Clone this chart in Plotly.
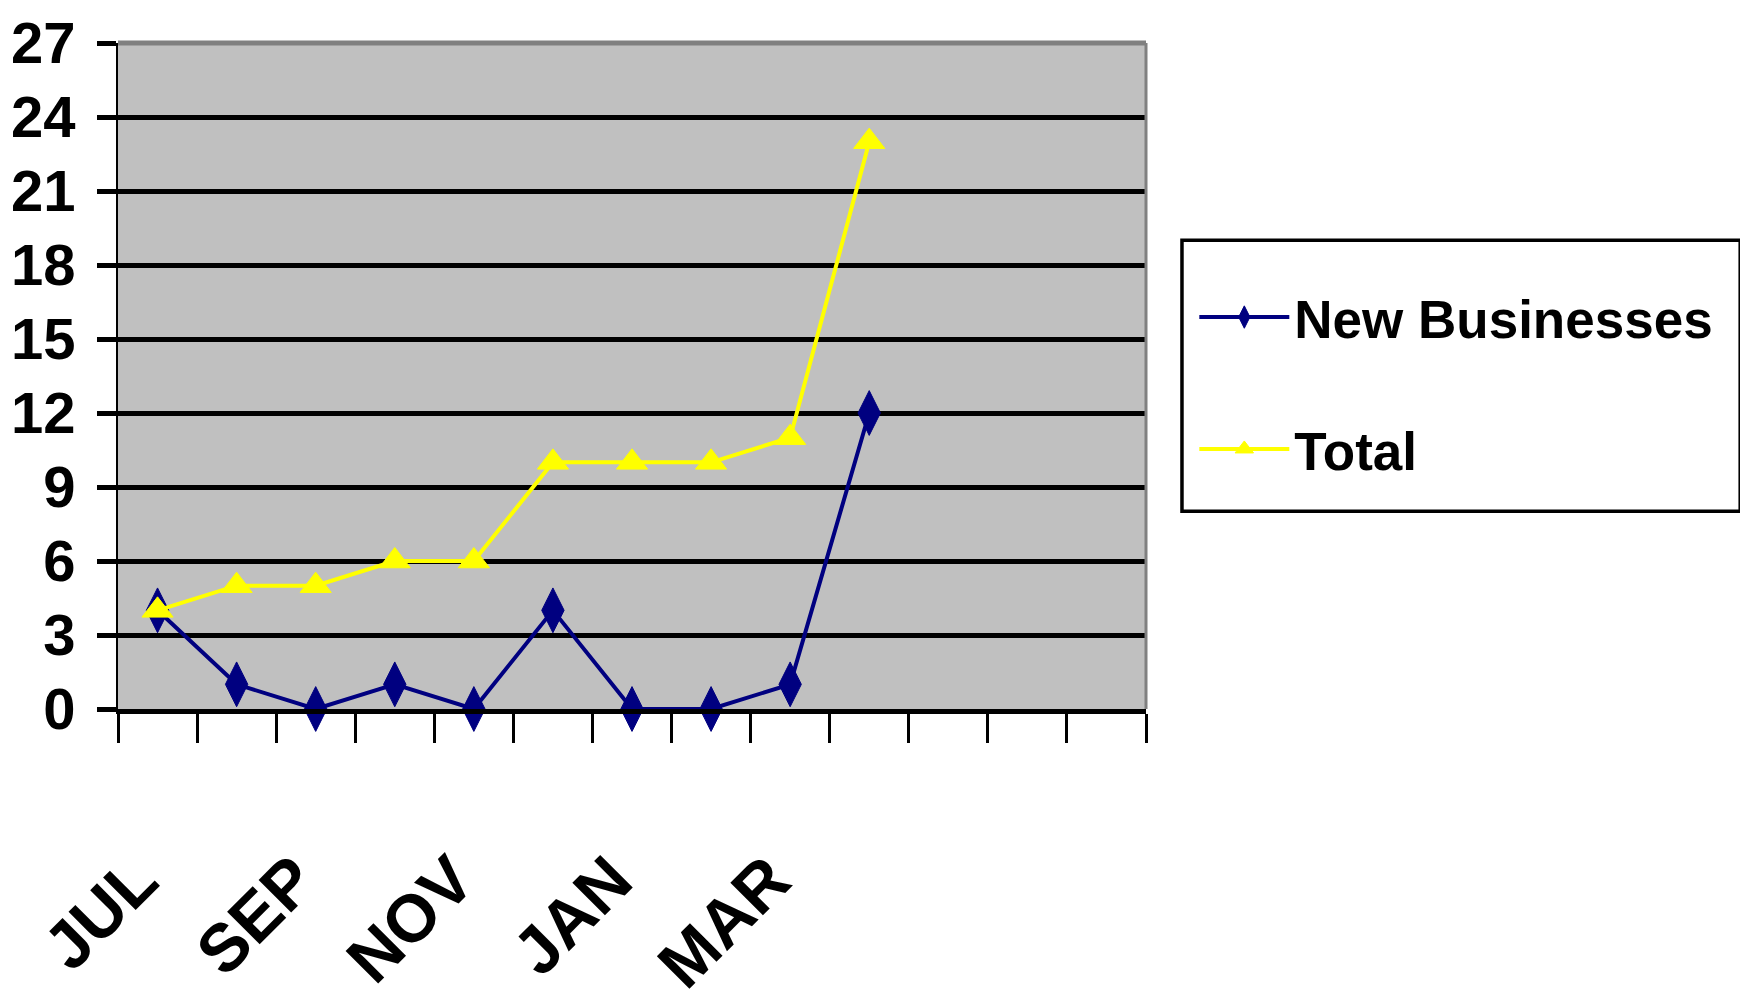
import plotly.graph_objects as go

months = ["JUL", "AUG", "SEP", "OCT", "NOV", "DEC", "JAN", "FEB", "MAR", "APR",
          "MAY", "JUN", "JUL"]
label_idx = [0, 2, 4, 6, 8]
new_businesses = [4, 1, 0, 1, 0, 4, 0, 0, 1, 12]
total = [4, 5, 5, 6, 6, 10, 10, 10, 11, 23]
y_ticks = [0, 3, 6, 9, 12, 15, 18, 21, 24, 27]

NAVY = "#000080"
YELLOW = "#FFFF00"
FONT = "Liberation Sans, Arial, sans-serif"

xs = list(range(len(new_businesses)))
n_cat = len(months)

fig = go.Figure()
fig.add_trace(go.Scatter(
    x=xs, y=new_businesses, name="New Businesses", mode="lines+markers",
    line=dict(color=NAVY, width=4),
    marker=dict(symbol="diamond-tall", size=32, color=NAVY, line=dict(color=NAVY, width=1)),
    legendgroup="a", cliponaxis=False,
))
fig.add_trace(go.Scatter(
    x=xs, y=total, name="Total", mode="lines+markers",
    line=dict(color=YELLOW, width=4),
    marker=dict(symbol="triangle-up", size=27, color=YELLOW, line=dict(color=YELLOW, width=1)),
    legendgroup="b", cliponaxis=False,
))
# invisible trace to carry the label axis
fig.add_trace(go.Scatter(x=[0], y=[0], xaxis="x2", mode="markers",
                         marker=dict(opacity=0), showlegend=False, hoverinfo="skip"))

boundaries = [i - 0.5 for i in range(n_cat + 1)]
label_shift = 0.25

fig.update_layout(
    width=1748, height=1000,
    margin=dict(l=110, r=610, t=35, b=299, autoexpand=False),
    paper_bgcolor="white",
    plot_bgcolor="#C0C0C0",
    xaxis=dict(
        range=[-0.5, n_cat - 0.5], automargin=False,
        tickvals=boundaries, ticktext=[""] * len(boundaries),
        ticks="outside", ticklen=29, tickwidth=3, tickcolor="black",
        showgrid=False, zeroline=False,
        showline=True, linecolor="black", linewidth=4.5,
    ),
    xaxis2=dict(
        overlaying="x", anchor="y", side="bottom", automargin=False,
        range=[-0.5 + label_shift, n_cat - 0.5 + label_shift],
        tickvals=label_idx, ticktext=[months[i] for i in label_idx],
        tickangle=-45, ticks="", showgrid=False, zeroline=False, showline=False,
        tickfont=dict(family=FONT, size=67, color="black", weight="bold"),
        ticklabelstandoff=117,
    ),
    yaxis=dict(
        range=[0, 27], tickvals=y_ticks, ticktext=[str(v) for v in y_ticks],
        automargin=False,
        ticks="outside", ticklen=19, tickwidth=4.5, tickcolor="black",
        showgrid=True, gridcolor="black", gridwidth=4.5,
        zeroline=False, showline=True, linecolor="black", linewidth=2,
        tickfont=dict(family=FONT, size=58, color="black", weight="bold"),
        ticklabelstandoff=10,
    ),
    legend=dict(
        x=1.047, y=0.650, xanchor="left", yanchor="top",
        bgcolor="rgba(0,0,0,0)", borderwidth=0,
        font=dict(family=FONT, size=53, color="black", weight="bold"),
        traceorder="grouped", tracegroupgap=60, itemwidth=90,
    ),
    shapes=[
        dict(type="line", xref="paper", yref="paper", x0=0, x1=1, y0=1, y1=1,
             line=dict(color="#808080", width=5)),
        dict(type="line", xref="paper", yref="paper", x0=1, x1=1, y0=0, y1=1,
             line=dict(color="#808080", width=3)),
        dict(type="rect", xref="paper", yref="paper",
             x0=1.035, x1=1.578, y0=0.297, y1=0.704,
             fillcolor="white", line=dict(color="black", width=3.5), layer="above"),
    ],
    showlegend=True,
)

fig.write_html("out.html")
